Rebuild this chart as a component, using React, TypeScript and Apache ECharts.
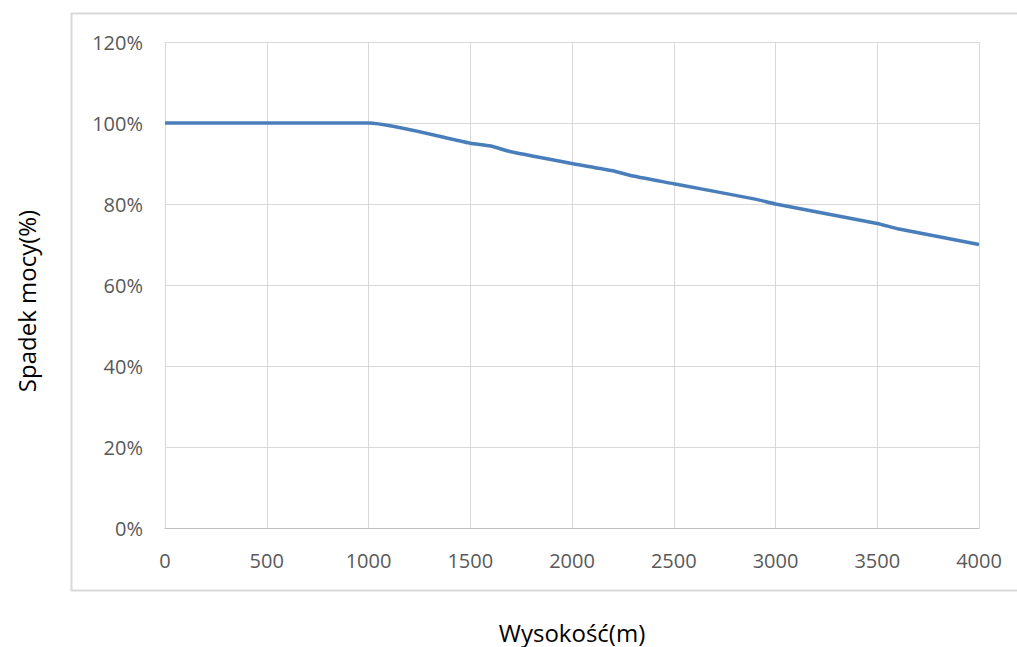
import React, { useEffect, useRef } from "react";
import * as echarts from "echarts";

const altitudes = [0, 1000, 1500, 1600, 1700, 2000, 2200, 2300, 2500, 2900, 3000, 3500, 3600, 4000];
const powerPct = [100, 100, 95, 94.3, 92.9, 90, 88.2, 86.9, 85, 81.2, 80, 75.2, 73.9, 70];
const xTitle = "Wysokość(m)";
const yTitle = "Spadek mocy(%)";

export default function App() {
  const ref = useRef<HTMLDivElement>(null);
  useEffect(() => {
    if (!ref.current) return;
    const chart = echarts.init(ref.current, undefined, { renderer: "svg" });
    const font = "'Open Sans', sans-serif";
    chart.setOption({
      animation: false,
      backgroundColor: "#ffffff",
      graphic: [
        {
          type: "rect",
          shape: { x: 71.5, y: 13.5, width: 1000, height: 577 },
          style: { fill: "none", stroke: "#d9d9d9", lineWidth: 2 },
          silent: true,
          z: -1,
        },
      ],
      grid: { left: 165, right: 38, top: 42, bottom: 119, outerBoundsMode: "none", containLabel: false },
      xAxis: {
        type: "value",
        min: 0,
        max: 4000,
        interval: 500,
        name: xTitle,
        nameLocation: "middle",
        nameGap: 92,
        nameTextStyle: { color: "#000000", fontSize: 24, fontFamily: font },
        axisLine: { show: true, lineStyle: { color: "#bfbfbf", width: 1 } },
        axisTick: { show: false },
        axisLabel: {
          color: "#595959",
          fontSize: 20,
          fontFamily: font,
          margin: 22,
          formatter: (v: number) => String(v),
        },
        splitLine: { show: true, lineStyle: { color: "#d9d9d9", width: 1 } },
      },
      yAxis: {
        type: "value",
        min: 0,
        max: 120,
        interval: 20,
        name: yTitle,
        nameLocation: "middle",
        nameRotate: 90,
        nameGap: 127,
        nameTextStyle: { color: "#000000", fontSize: 24, fontFamily: font, padding: [0, 32, 0, 0] },
        axisLine: { show: true, lineStyle: { color: "#d9d9d9", width: 1 } },
        axisTick: { show: false },
        axisLabel: { color: "#595959", fontSize: 20, fontFamily: font, margin: 22, formatter: "{value}%" },
        splitLine: { show: true, lineStyle: { color: "#d9d9d9", width: 1 } },
      },
      series: [
        {
          type: "line",
          data: altitudes.map((a, i) => [a, powerPct[i]]),
          showSymbol: false,
          smooth: 0.2,
          lineStyle: { color: "#4a7ebb", width: 3.5 },
        },
      ],
    });
    return () => chart.dispose();
  }, []);
  return (
    <div
      ref={ref}
      style={{ position: "fixed", left: 0, top: 0, width: 1017, height: 647 }}
    />
  );
}
